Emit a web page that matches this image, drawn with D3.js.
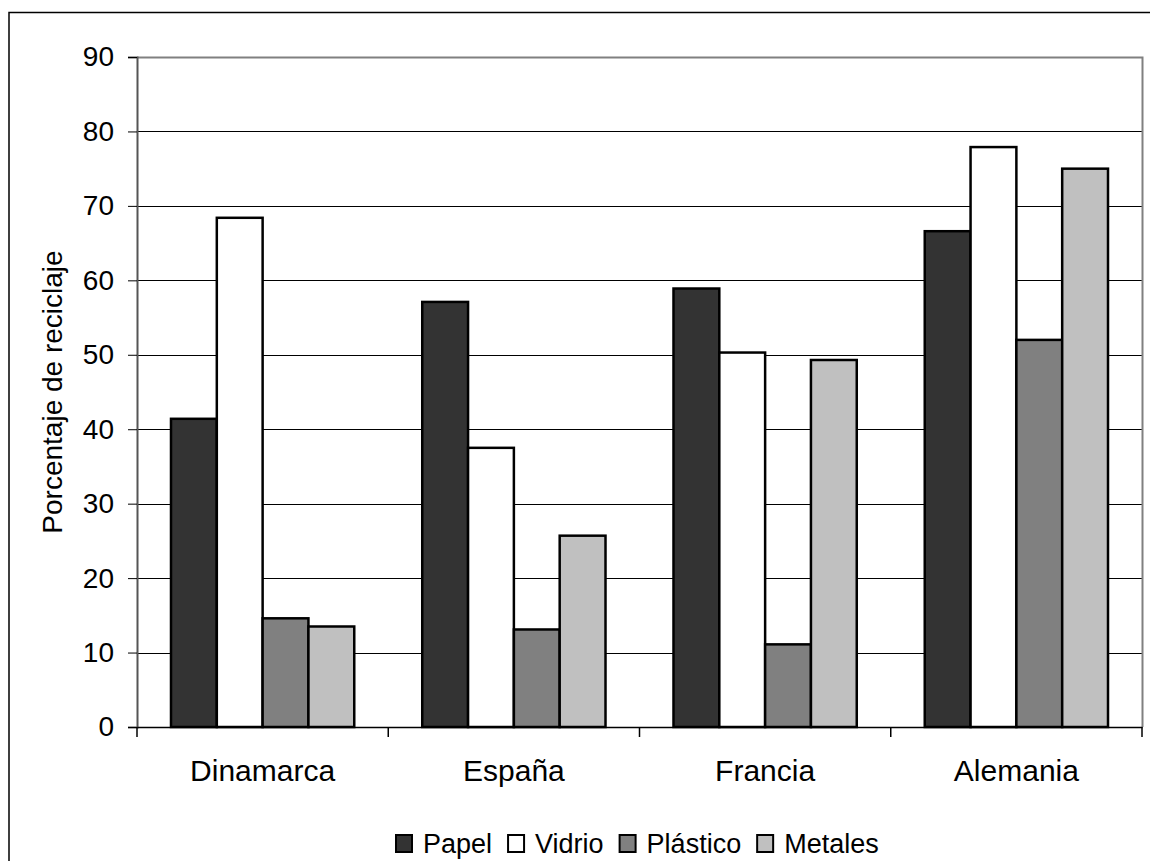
<!DOCTYPE html>
<html>
<head>
<meta charset="utf-8">
<script src="https://cdn.jsdelivr.net/npm/d3@7/dist/d3.min.js"></script>
<style>
  html, body { margin: 0; padding: 0; background: #fff; }
  svg text { font-family: "Liberation Sans", Arial, sans-serif; fill: #000; }
</style>
</head>
<body>
<svg id="chart" width="1150" height="861"></svg>
<script>
// Recycling rates by country and material (%)
const countries = ["Dinamarca", "España", "Francia", "Alemania"];
const materials = ["Papel", "Vidrio", "Plástico", "Metales"];
const papel    = [41.4, 57.1, 58.9, 66.6];
const vidrio   = [68.4, 37.5, 50.3, 77.9];
const plastico = [14.6, 13.1, 11.1, 52.0];
const metales  = [13.5, 25.7, 49.3, 75.0];
const yTicks   = [0, 10, 20, 30, 40, 50, 60, 70, 80, 90];
const colors   = ["#333333", "#ffffff", "#808080", "#c0c0c0"];

const seriesValues = [papel, vidrio, plastico, metales];
const rows = countries.map((c, i) => ({
  country: c,
  values: materials.map((m, j) => ({ material: m, value: seriesValues[j][i] }))
}));

const FONT = "Liberation Sans, Arial, sans-serif";
const svg = d3.select("#chart");
const plot = { left: 137, top: 57, right: 1142, bottom: 727 };

// outer frame
svg.append("rect")
  .attr("x", 9).attr("y", 12.5)
  .attr("width", 1150).attr("height", 861)
  .attr("fill", "none").attr("stroke", "#000").attr("stroke-width", 1.5);

const x0 = d3.scaleBand().domain(countries).range([plot.left, plot.right]).paddingInner(0).paddingOuter(0);
const x1 = d3.scaleBand().domain(materials).range([0, x0.bandwidth()]).paddingInner(0).paddingOuter(0.742);
const y = d3.scaleLinear().domain([0, 90]).range([plot.bottom, plot.top]);
const color = d3.scaleOrdinal().domain(materials).range(colors);

// gridlines
svg.append("g")
  .selectAll("line")
  .data(yTicks.filter(t => t > 0 && t < 90))
  .join("line")
  .attr("x1", plot.left).attr("x2", plot.right)
  .attr("y1", d => Math.round(y(d)) + 0.5).attr("y2", d => Math.round(y(d)) + 0.5)
  .attr("stroke", "#000").attr("stroke-width", 1);

// plot border (top & right)
svg.append("path")
  .attr("d", `M${plot.left},${plot.top + 0.5}H${plot.right + 0.5}V${plot.bottom}`)
  .attr("fill", "none").attr("stroke", "#808080").attr("stroke-width", 2);

// bars
const groups = svg.append("g").selectAll("g")
  .data(rows)
  .join("g")
  .attr("transform", d => `translate(${x0(d.country)},0)`);

groups.selectAll("rect")
  .data(d => d.values)
  .join("rect")
  .attr("x", d => x1(d.material))
  .attr("y", d => y(d.value))
  .attr("width", x1.bandwidth())
  .attr("height", d => y(0) - y(d.value))
  .attr("fill", d => color(d.material))
  .attr("stroke", "#000")
  .attr("stroke-width", 2.5);

// y axis
const yAxis = svg.append("g")
  .attr("transform", `translate(${plot.left},0)`)
  .call(d3.axisLeft(y).tickValues(yTicks).tickSize(9).tickPadding(14).tickFormat(d3.format("d")));
yAxis.select(".domain").attr("stroke", "#555").attr("stroke-width", 2);
yAxis.selectAll(".tick line").attr("stroke", "#000");
yAxis.selectAll(".tick text").attr("font-size", 28).attr("font-family", FONT);

// x axis
const xAxis = svg.append("g")
  .attr("transform", `translate(0,${plot.bottom})`)
  .call(d3.axisBottom(x0).tickSize(0).tickPadding(33));
xAxis.select(".domain").attr("stroke", "#000").attr("stroke-width", 1.5);
xAxis.selectAll(".tick text").attr("font-size", 30).attr("font-family", FONT);
// category separators on the x axis
svg.append("g").selectAll("line")
  .data(countries.concat(["__end"]))
  .join("line")
  .attr("x1", (d, i) => plot.left + i * x0.bandwidth())
  .attr("x2", (d, i) => plot.left + i * x0.bandwidth())
  .attr("y1", plot.bottom).attr("y2", plot.bottom + 10)
  .attr("stroke", "#000").attr("stroke-width", 1.5);

// y axis title
svg.append("text")
  .attr("transform", `translate(62,${(plot.top + plot.bottom) / 2}) rotate(-90)`)
  .attr("text-anchor", "middle")
  .attr("font-size", 28)
  .attr("font-family", FONT)
  .text("Porcentaje de reciclaje");

// legend
const legend = svg.append("g").attr("transform", "translate(395,843)");
let lx = 0;
materials.forEach((m, i) => {
  const g = legend.append("g").attr("transform", `translate(${lx},0)`);
  g.append("rect")
    .attr("x", 1).attr("y", -8).attr("width", 16).attr("height", 17)
    .attr("fill", color(m)).attr("stroke", "#000").attr("stroke-width", 2);
  const t = g.append("text")
    .attr("x", 28).attr("y", 9.5)
    .attr("font-size", 27)
    .attr("font-family", FONT)
    .text(m);
  lx += 28 + t.node().getComputedTextLength() + 15;
});
</script>
</body>
</html>
